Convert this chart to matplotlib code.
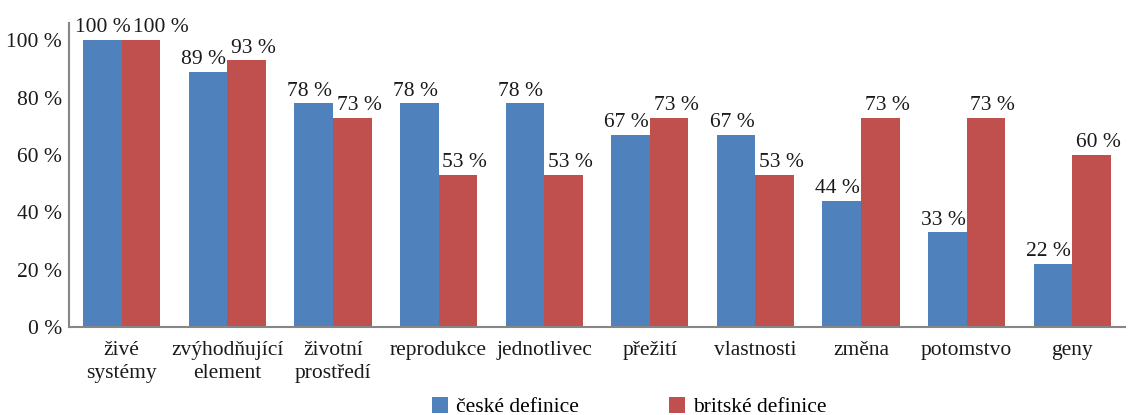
import matplotlib
matplotlib.use("Agg")
import matplotlib.pyplot as plt
import numpy as np

categories = ["živé\nsystémy", "zvýhodňující\nelement", "životní\nprostředí",
              "reprodukce", "jednotlivec", "přežití", "vlastnosti",
              "změna", "potomstvo", "geny"]
czech = [100, 89, 78, 78, 78, 67, 67, 44, 33, 22]
british = [100, 93, 73, 53, 53, 73, 53, 73, 73, 60]
series_names = ["české definice", "britské definice"]
yticks = [0, 20, 40, 60, 80, 100]

plt.rcParams['font.family'] = ['Liberation Serif', 'DejaVu Serif']
fs = 15.5
txt = "#1a1a1a"

fig = plt.figure(figsize=(11.32, 4.15), dpi=100)
ax = fig.add_axes([69/1132, 1 - 327/415, (1125 - 69)/1132, (327 - 23)/415])

x = np.arange(len(categories))
w = 0.365
b1 = ax.bar(x - w/2, czech, w, color="#4F81BD", label=series_names[0])
b2 = ax.bar(x + w/2, british, w, color="#C0504D", label=series_names[1])

# value labels: blue ones nudged left, red ones nudged right
labels = []
for bars, vals, dx in ((b1, czech, -3), (b2, british, 5)):
    row = []
    for r, v in zip(bars, vals):
        t = ax.annotate(f"{v} %", (r.get_x() + r.get_width()/2, v),
                        xytext=(dx, 2), textcoords="offset points",
                        ha="center", va="bottom", fontsize=fs, color=txt)
        row.append(t)
    labels.append(row)

ax.set_xlim(-0.5, len(categories) - 0.5)
ax.set_ylim(0, 106)
ax.set_yticks(yticks)
ax.set_yticklabels([f"{t} %" for t in yticks], fontsize=fs, color=txt)
ax.set_xticks(x)
ax.set_xticklabels(categories, fontsize=fs, color=txt, linespacing=1.3)
ax.tick_params(axis="both", length=0)
ax.tick_params(axis="x", pad=10)
ax.tick_params(axis="y", pad=5)
for s in ("top", "right"):
    ax.spines[s].set_visible(False)
for s in ("left", "bottom"):
    ax.spines[s].set_color("#868686")
    ax.spines[s].set_linewidth(1.5)

# keep side-by-side labels apart where they sit at the same height
fig.canvas.draw()
rend = fig.canvas.get_renderer()
for tb, tr in zip(*labels):
    eb = tb.get_window_extent(rend)
    er = tr.get_window_extent(rend)
    if eb.overlaps(er):
        shift = (eb.x1 - er.x0 + 3) * 72 / fig.dpi
        xb, yb = tb.xyann
        xr, yr = tr.xyann
        tb.xyann = (xb + 3, yb)
        tr.xyann = (xr + shift + 3, yr)

fig.legend(handles=[b1, b2], labels=series_names, loc="center",
           bbox_to_anchor=(629/1132, 1 - 407/415), ncol=2, frameon=False,
           fontsize=fs, handlelength=0.75, handleheight=0.75,
           columnspacing=4.2, handletextpad=0.35, borderpad=0)

fig.savefig("out.png", dpi=100)
